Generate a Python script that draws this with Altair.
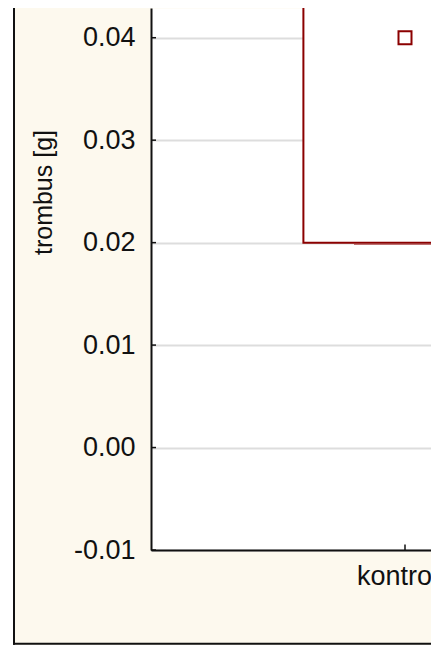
import altair as alt
import pandas as pd

# ---- data ----
groups = ["kontrola"]
q1 = [0.02]            # lower edge of the box
q3 = [0.05]            # upper edge of the box (above the visible area, estimated)
median = [0.04]        # square marker
whisker_low = [0.02]   # lower whisker cap
y_ticks = [-0.01, 0.0, 0.01, 0.02, 0.03, 0.04]

DARK_RED = "#8B0000"
CREAM = "#FDF9EE"
INK = "#111111"
FONT = "Liberation Sans"

stats = pd.DataFrame({"group": groups, "q1": q1, "q3": q3,
                      "median": median, "lo": whisker_low})
ticks_df = pd.DataFrame({"value": y_ticks})

yscale = alt.Scale(domain=[-0.01, 0.0429], nice=False, zero=False)
xscale = alt.Scale(type="band", domain=groups, range=[0, 508],
                   paddingInner=0, paddingOuter=0)

y_axis = alt.Axis(
    values=y_ticks,
    labelExpr="datum.value < 0 ? '-' + format(-datum.value, '.2f') : format(datum.value, '.2f')",
    ticks=False, tickSize=0, labelPadding=16,
    labelFont=FONT, labelFontSize=27, labelColor=INK,
    domainColor=INK, domainWidth=2,
    gridColor="#DDDDDD", gridWidth=2,
    title="trombus [g]", titleFont=FONT, titleFontSize=25,
    titleFontWeight="normal", titleColor=INK,
    titleX=-108, titleY=184, titleAngle=270,
    titleAlign="center", titleBaseline="middle",
)
x_axis = alt.Axis(
    ticks=False, tickSize=0, labelPadding=13, labelAngle=0,
    labelFont=FONT, labelFontSize=27, labelColor=INK,
    domainColor=INK, domainWidth=2, grid=False,
)

# decorative outer frame
white_strip = alt.Chart(stats).mark_rect(color="white").encode(
    x=alt.value(-143), x2=alt.value(-137.5), y=alt.value(-10), y2=alt.value(650))
left_border = alt.Chart(stats).mark_rule(color=INK, strokeWidth=2).encode(
    x=alt.value(-137), y=alt.value(-10), y2=alt.value(636.7))
bottom_border = alt.Chart(stats).mark_rule(color=INK, strokeWidth=2).encode(
    x=alt.value(-138), x2=alt.value(400), y=alt.value(635.7))

box = alt.Chart(stats).mark_bar(
    width=alt.RelativeBandSize(0.4), fill="white", stroke=DARK_RED, strokeWidth=2
).encode(
    x=alt.X("group:N", scale=xscale, axis=x_axis, title=None),
    y=alt.Y("q1:Q", scale=yscale, axis=y_axis, title="trombus [g]"),
    y2="q3:Q",
)

cap = alt.Chart(stats).mark_tick(
    color="#A83A3A", size=102, thickness=1.5, yOffset=1.7, orient="horizontal"
).encode(
    x=alt.X("group:N", scale=xscale, title=None),
    y=alt.Y("lo:Q", scale=yscale, title="trombus [g]"),
)

med = alt.Chart(stats).mark_point(
    shape="square", size=169, filled=False, stroke=DARK_RED, strokeWidth=2, opacity=1
).encode(
    x=alt.X("group:N", scale=xscale, title=None),
    y=alt.Y("median:Q", scale=yscale, title="trombus [g]"),
)

y_tick_rules = alt.Chart(ticks_df).mark_rule(color=INK, strokeWidth=1.5).encode(
    y=alt.Y("value:Q", scale=yscale, title="trombus [g]"),
    x=alt.value(0), x2=alt.value(5),
)

x_tick_rule = alt.Chart(stats).mark_rule(color=INK, strokeWidth=1.5).encode(
    x=alt.X("group:N", scale=xscale, title=None),
    y=alt.value(542), y2=alt.value(536.5),
)

chart = alt.layer(
    white_strip, left_border, bottom_border, box, cap, med, y_tick_rules, x_tick_rule
).properties(
    width=280, height=542,
    autosize=alt.AutoSizeParams(type="none"),
    padding={"left": 143, "right": 0, "top": 0, "bottom": 95},
).configure(
    background=CREAM,
).configure_view(
    fill="white", stroke="transparent",
)

chart.save("out.html", embed_options={"renderer": "svg", "actions": False})
